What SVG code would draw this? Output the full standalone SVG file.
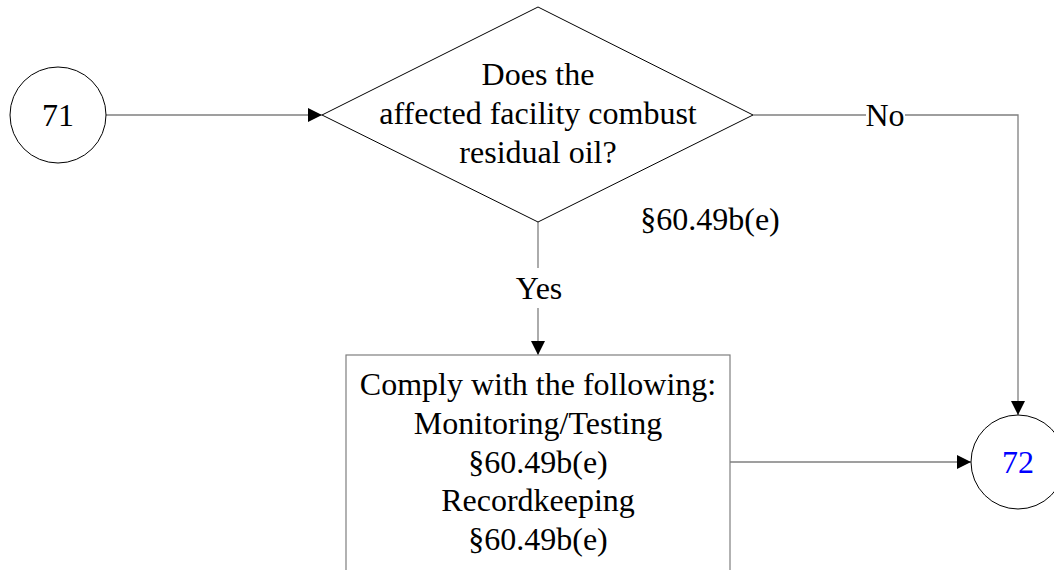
<svg xmlns="http://www.w3.org/2000/svg" width="1054" height="570" viewBox="0 0 1054 570">
<style>
text{font-family:"Liberation Serif","Times New Roman",serif;font-size:32px;fill:#000;text-anchor:middle}
.shape{fill:#fff;stroke:#000;stroke-width:1}
.box{fill:#fff;stroke:#7f7f7f;stroke-width:1.2}
.conn{fill:none;stroke:#7f7f7f;stroke-width:1.3}
</style>
<defs>
<marker id="arr" viewBox="0 0 14 14" refX="14" refY="7" markerWidth="14" markerHeight="14" markerUnits="userSpaceOnUse" orient="auto">
<path d="M0,0 L14,7 L0,14 Z" fill="#000"/>
</marker>
</defs>
<rect width="1054" height="570" fill="#fff"/>
<g id="connectors">
<line class="conn" x1="106" y1="115" x2="322" y2="115" marker-end="url(#arr)"/>
<polyline class="conn" points="753,115 866,115"/>
<polyline class="conn" points="905,115 1018,115 1018,415" marker-end="url(#arr)"/>
<line class="conn" x1="538" y1="222" x2="538" y2="268"/>
<line class="conn" x1="538" y1="308" x2="538" y2="355" marker-end="url(#arr)"/>
<line class="conn" x1="730" y1="462" x2="971" y2="462" marker-end="url(#arr)"/>
<text x="885" y="126">No</text>
<text x="539" y="299">Yes</text>
</g>
<g id="node71">
<circle class="shape" cx="58" cy="115" r="48"/>
<text x="58" y="126">71</text>
</g>
<g id="decision">
<polygon class="shape" points="538,7 753,115 538,222 322,115"/>
<text x="538" y="85">Does the</text>
<text x="538" y="124">affected facility combust</text>
<text x="538" y="163">residual oil?</text>
<text x="710" y="230">§60.49b(e)</text>
</g>
<g id="action">
<rect class="box" x="346" y="355" width="384" height="230"/>
<text x="538" y="395">Comply with the following:</text>
<text x="538" y="434">Monitoring/Testing</text>
<text x="538" y="473">§60.49b(e)</text>
<text x="538" y="511">Recordkeeping</text>
<text x="538" y="550">§60.49b(e)</text>
</g>
<g id="node72">
<circle class="shape" cx="1018" cy="462" r="47"/>
<text x="1018" y="473" style="fill:#0000ff">72</text>
</g>
</svg>
